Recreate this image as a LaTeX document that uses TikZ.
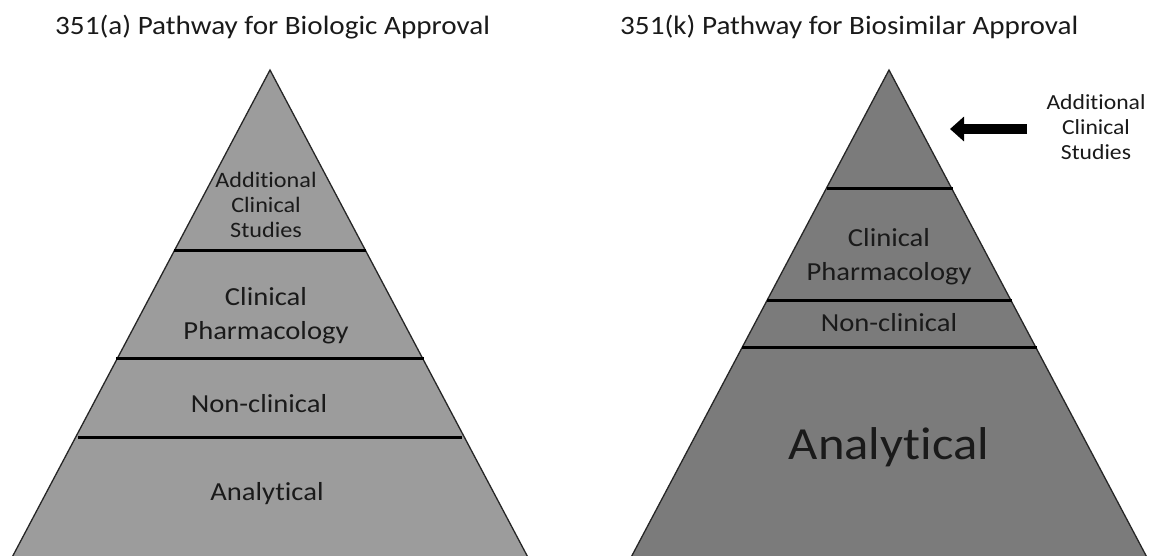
\documentclass[tikz,border=0pt]{standalone}
\usepackage{fontspec}
\setmainfont{Carlito}[FakeStretch=1.1, Ligatures={NoCommon}]
\usetikzlibrary{arrows.meta}
\definecolor{lightfill}{HTML}{9C9C9C}
\definecolor{darkfill}{HTML}{7B7B7B}
\definecolor{txt}{HTML}{1A1A1A}
\tikzset{
  pyr/.style={draw=black!85, line width=1.3pt},
  sep/.style={draw=black, line width=3pt},
  lbl/.style={text=txt, align=center, inner sep=0pt, font=\fontsize{26}{34}\selectfont},
  ttl/.style={text=txt, anchor=west, inner sep=0pt, font=\fontsize{26.5}{30}\selectfont},
}
\begin{document}
\begin{tikzpicture}[x=1pt,y=-1pt]
\useasboundingbox (0,0) rectangle (1149,555);
\clip (0,0) rectangle (1149,555);
% titles
\node[ttl] (t1) at (55,27) {351(a) Pathway for Biologic Approval};
\node[ttl] (t2) at (620,27) {351(k) Pathway for Biosimilar Approval};
% left pyramid
\fill[lightfill] (270,70) -- (8,565) -- (532,565) -- cycle;
\draw[pyr] (8,565) -- (270,70) -- (532,565);
\draw[sep] (174,250) -- (366,250);
\draw[sep] (116,358) -- (424,358);
\draw[sep] (78,437) -- (462,437);
\node[lbl, font=\fontsize{22}{25}\selectfont] (la) at (266,205) {Additional\\Clinical\\Studies};
\node[lbl] (lb) at (266,316) {Clinical\\Pharmacology};
\node[lbl] (lc) at (259,404) {Non-clinical};
\node[lbl] (ld) at (267,494) {Analytical};
% right pyramid
\fill[darkfill] (889,70) -- (627,565) -- (1151,565) -- cycle;
\draw[pyr] (627,565) -- (889,70) -- (1151,565);
\draw[sep] (827,188) -- (953,188);
\draw[sep] (767,300) -- (1012,300);
\draw[sep] (742,347) -- (1037,347);
\node[lbl] (rb) at (889,257) {Clinical\\Pharmacology};
\node[lbl] (rc) at (889,323) {Non-clinical};
\node[lbl, font=\fontsize{46}{50}\selectfont] (rd) at (889,447) {Analytical};
% side label and arrow
\node[lbl, font=\fontsize{21.5}{25}\selectfont] (ra) at (1096,127) {Additional\\Clinical\\Studies};
\coordinate (atail) at (1027,129);
\coordinate (atip) at (950,129);
\draw[line width=10pt, -{Triangle[length=14pt,width=24pt]}] (atail) -- (atip);
\end{tikzpicture}
\end{document}
